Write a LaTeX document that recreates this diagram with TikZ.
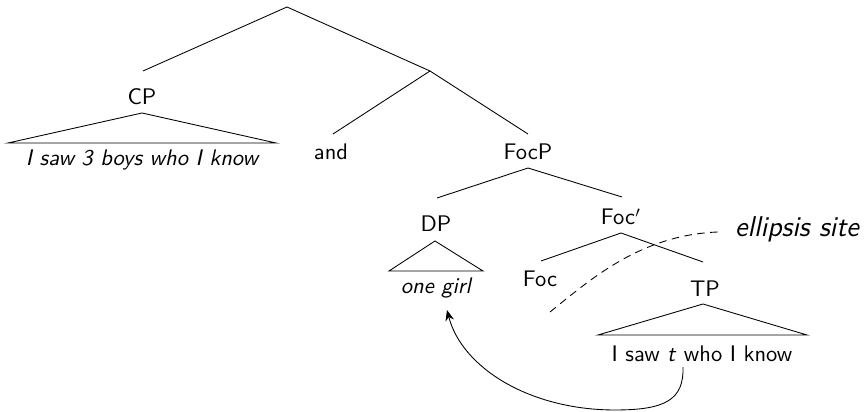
\documentclass[tikz,border=0pt]{standalone}
\usetikzlibrary{arrows.meta}
\begin{document}
\begin{tikzpicture}[x=0.4614pt,y=-0.4614pt,font=\fontsize{10.4}{12.5}\sffamily,
  lbl/.style={anchor=base,inner sep=0pt},
  ex/.style={lbl,font=\fontsize{10.4}{12.5}\sffamily\itshape}]
  \useasboundingbox (0,0) rectangle (867,412);
  % branching points
  \coordinate (top) at (287,7);
  \coordinate (cpT) at (143,71);
  \coordinate (conj) at (430,71);
  \coordinate (andT) at (333,134);
  \coordinate (focpT) at (528,134);
  \coordinate (focpB) at (528,168);
  \coordinate (dpT) at (437,198);
  \coordinate (fbarT) at (622,197);
  \coordinate (fbarB) at (621,233);
  \coordinate (focT) at (541,261);
  \coordinate (tpT) at (703,262);
  % labels
  \node[lbl] (cp) at (142,105) {CP};
  \node[lbl] (and) at (331,160) {and};
  \node[lbl] (focp) at (528,160) {FocP};
  \node[lbl] (dp) at (436,232) {DP};
  \node[lbl] (fbar) at (621,225) {Foc$'$};
  \node[lbl] (foc) at (540,287) {Foc};
  \node[lbl] (tp) at (705,297) {TP};
  \node[ex] (cpx) at (142,166) {I saw 3 boys who I know};
  \node[ex] (dpx) at (436,294) {one girl};
  \node[lbl] (tpx) at (702,362) {I saw \textit{t} who I know};
  \node[ex,font=\fontsize{13.2}{15}\sffamily\itshape] (site) at (797,237) {ellipsis site};
  % branches
  \draw (cpT) -- (top) -- (conj);
  \draw (andT) -- (conj) -- (focpT);
  \draw (dpT) -- (focpB) -- (fbarT);
  \draw (focT) -- (fbarB) -- (tpT);
  % triangles
  \draw (142,113) -- (8,143) -- (276,143) -- cycle;
  \draw (435,241) -- (389,271) -- (483,271) -- cycle;
  \draw (703,304) -- (598,335) -- (807,335) -- cycle;
  % ellipsis and movement
  \coordinate (cutA) at (550,312);
  \coordinate (cutB) at (718,232);
  \draw[dash pattern=on 3.5pt off 2.5pt] (cutA) .. controls (590,280) and (640,235) .. (cutB);
  \coordinate (trace) at (683,367);
  \coordinate (low) at (615,410);
  \coordinate (land) at (447,310);
  \draw[-{Stealth[length=5pt,width=4pt]}] (trace) .. controls (684,400) and (665,410) .. (low)
    .. controls (530,410) and (462,368) .. (land);
\end{tikzpicture}
\end{document}
